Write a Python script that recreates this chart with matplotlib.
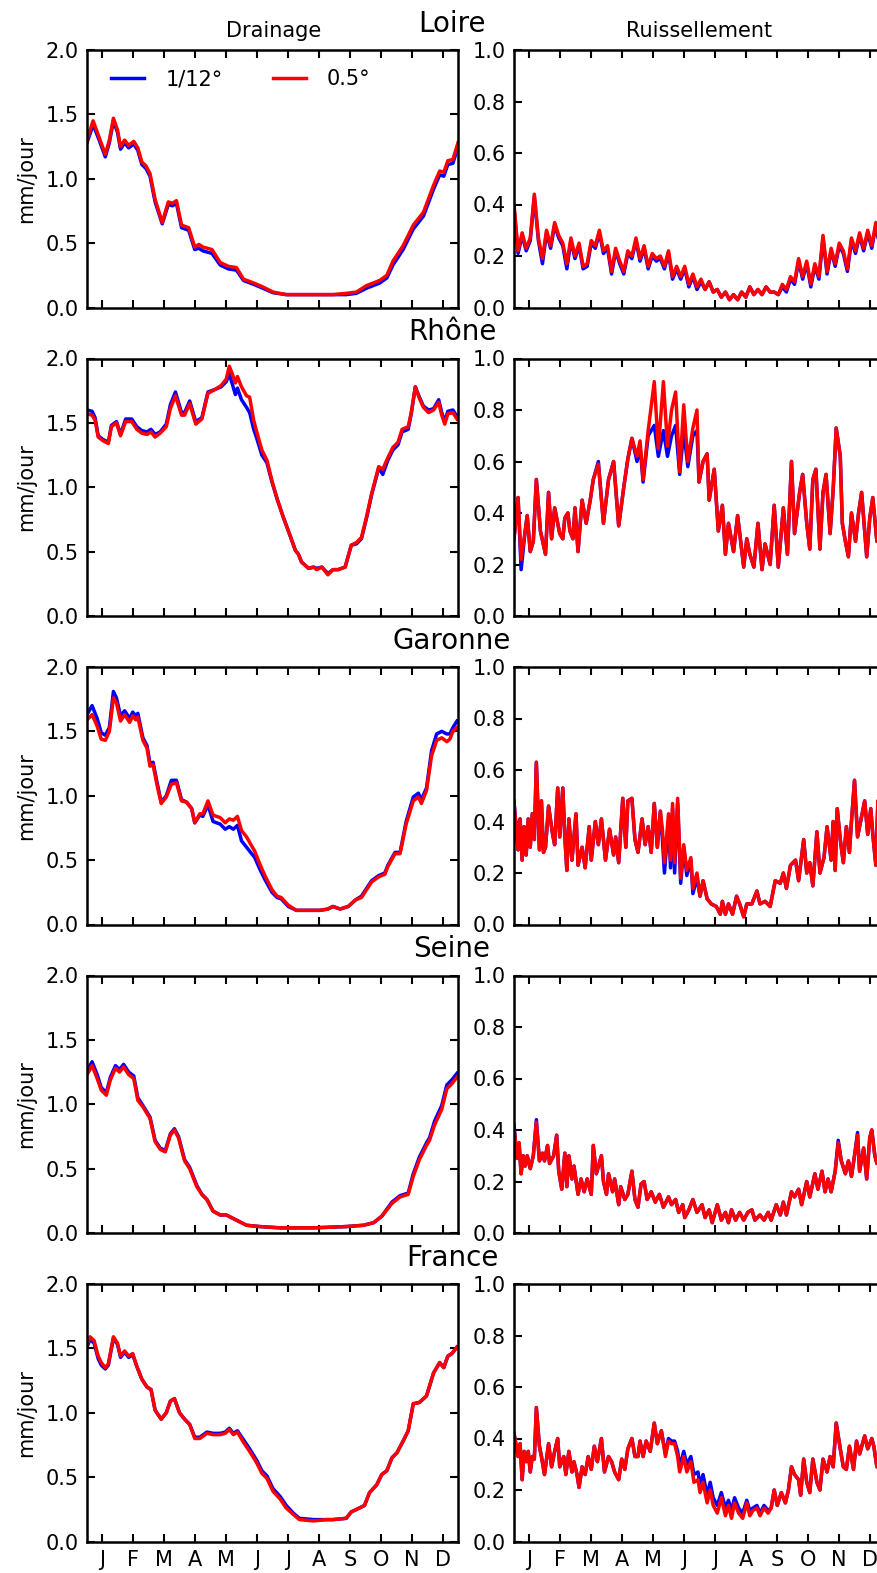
import numpy as np
import matplotlib
matplotlib.use('Agg')
import matplotlib.pyplot as plt
from matplotlib.ticker import FormatStrFormatter

mois = ['J', 'F', 'M', 'A', 'M', 'J', 'J', 'A', 'S', 'O', 'N', 'D']
bassins = ['Loire', 'Rhône', 'Garonne', 'Seine', 'France']

################ drainage (mm/jour) ################
loire_jd = [0, 6, 12, 18, 22, 26, 30, 33, 37, 41, 46, 50, 54, 58, 62, 67, 74, 80, 84, 88,
            93, 100, 106, 110, 114, 123, 131, 139, 147, 154, 164, 173, 183, 196, 209, 223,
            242, 255, 265, 275, 288, 295, 301, 311, 321, 331, 341, 347, 351, 355, 360, 365]
loire_d05 = [1.30, 1.45, 1.32, 1.19, 1.30, 1.47, 1.38, 1.25, 1.30, 1.26, 1.29, 1.24, 1.13, 1.10,
             1.04, 0.84, 0.66, 0.82, 0.81, 0.83, 0.64, 0.62, 0.47, 0.49, 0.47, 0.45, 0.35, 0.32,
             0.31, 0.22, 0.19, 0.16, 0.12, 0.10, 0.10, 0.10, 0.10, 0.11, 0.12, 0.17, 0.21, 0.25,
             0.36, 0.48, 0.64, 0.74, 0.95, 1.06, 1.05, 1.14, 1.15, 1.28]
loire_d12 = [1.28, 1.42, 1.30, 1.17, 1.28, 1.45, 1.36, 1.23, 1.28, 1.24, 1.27, 1.22, 1.11, 1.08,
             1.02, 0.82, 0.65, 0.80, 0.79, 0.81, 0.62, 0.60, 0.45, 0.46, 0.44, 0.42, 0.33, 0.30,
             0.29, 0.21, 0.18, 0.15, 0.115, 0.10, 0.10, 0.10, 0.10, 0.10, 0.11, 0.15, 0.19, 0.23,
             0.33, 0.45, 0.61, 0.71, 0.92, 1.03, 1.02, 1.11, 1.12, 1.25]

rhone_jd = [0, 5, 8, 11, 16, 21, 24, 29, 33, 38, 44, 49, 54, 59, 63, 67, 72, 78, 82, 87,
            93, 96, 101, 107, 113, 119, 126, 132, 137, 140, 143, 146, 148, 152, 157, 160, 164, 167, 172, 177,
            182, 187, 193, 200, 205, 208, 211, 218, 223, 226, 231, 237, 242, 247, 254, 260, 265, 270, 275, 280,
            287, 291, 296, 301, 306, 310, 316, 319, 323, 327, 331, 336, 341, 346, 349, 352, 355, 360, 364]
rhone_d05 = [1.57, 1.56, 1.52, 1.39, 1.36, 1.34, 1.47, 1.50, 1.40, 1.51,
             1.51, 1.45, 1.42, 1.41, 1.43, 1.39, 1.42, 1.47, 1.61, 1.71,
             1.56, 1.56, 1.65, 1.49, 1.53, 1.73, 1.76, 1.79, 1.84, 1.94,
             1.88, 1.81, 1.86, 1.78, 1.71, 1.70, 1.52, 1.43, 1.29, 1.21,
             1.05, 0.91, 0.77, 0.62, 0.51, 0.48, 0.42, 0.37, 0.38, 0.36,
             0.38, 0.32, 0.36, 0.36, 0.38, 0.55, 0.57, 0.61, 0.77, 0.95,
             1.16, 1.14, 1.23, 1.31, 1.35, 1.45, 1.47, 1.58, 1.78, 1.69,
             1.62, 1.58, 1.60, 1.66, 1.56, 1.49, 1.57, 1.58, 1.53]
rhone_d12 = [1.60, 1.59, 1.54, 1.40, 1.37, 1.35, 1.48, 1.51, 1.41, 1.53,
             1.53, 1.47, 1.44, 1.43, 1.45, 1.41, 1.43, 1.49, 1.64, 1.74,
             1.58, 1.58, 1.67, 1.51, 1.54, 1.74, 1.76, 1.78, 1.82, 1.88,
             1.80, 1.72, 1.77, 1.68, 1.62, 1.58, 1.45, 1.38, 1.25, 1.19,
             1.04, 0.91, 0.77, 0.62, 0.51, 0.48, 0.42, 0.37, 0.38, 0.37,
             0.38, 0.33, 0.36, 0.36, 0.38, 0.55, 0.56, 0.60, 0.76, 0.94,
             1.15, 1.10, 1.21, 1.29, 1.33, 1.43, 1.45, 1.57, 1.78, 1.70,
             1.63, 1.60, 1.61, 1.68, 1.58, 1.51, 1.59, 1.60, 1.55]

garonne_jd = [0, 5, 10, 14, 18, 22, 26, 29, 33, 37, 42, 45, 48, 50, 55, 59, 62, 65, 69, 73,
              78, 83, 88, 93, 98, 103, 106, 111, 114, 119, 124, 131, 136, 140, 144, 148, 152, 157, 162, 165,
              170, 175, 182, 187, 191, 198, 206, 216, 229, 237, 242, 249, 257, 264, 270, 280, 287, 293, 296, 303,
              308, 314, 321, 326, 329, 334, 339, 344, 349, 354, 357, 360, 364]
garonne_d05 = [1.59, 1.63, 1.54, 1.44, 1.43, 1.50, 1.76, 1.72, 1.58, 1.63,
               1.57, 1.62, 1.59, 1.61, 1.43, 1.37, 1.23, 1.24, 1.08, 0.94,
               0.99, 1.09, 1.10, 0.96, 0.95, 0.90, 0.79, 0.86, 0.86, 0.96,
               0.85, 0.83, 0.79, 0.82, 0.81, 0.84, 0.73, 0.68, 0.61, 0.57,
               0.47, 0.38, 0.27, 0.22, 0.21, 0.15, 0.11, 0.11, 0.11, 0.12,
               0.14, 0.12, 0.14, 0.19, 0.21, 0.33, 0.37, 0.39, 0.45, 0.55,
               0.55, 0.78, 0.96, 0.99, 0.94, 1.04, 1.31, 1.43, 1.45, 1.42,
               1.44, 1.50, 1.53]
garonne_d12 = [1.63, 1.70, 1.60, 1.49, 1.47, 1.53, 1.81, 1.76, 1.62, 1.66,
               1.60, 1.65, 1.62, 1.64, 1.45, 1.39, 1.25, 1.26, 1.10, 0.95,
               1.00, 1.12, 1.12, 0.97, 0.95, 0.90, 0.79, 0.85, 0.84, 0.93,
               0.80, 0.78, 0.74, 0.76, 0.74, 0.77, 0.65, 0.60, 0.55, 0.52,
               0.43, 0.35, 0.25, 0.21, 0.20, 0.14, 0.11, 0.11, 0.11, 0.12,
               0.14, 0.12, 0.14, 0.19, 0.22, 0.34, 0.38, 0.40, 0.46, 0.56,
               0.56, 0.80, 0.99, 1.02, 0.97, 1.06, 1.35, 1.48, 1.50, 1.48,
               1.48, 1.53, 1.58]

seine_jd = [0, 5, 10, 14, 19, 23, 28, 32, 36, 41, 46, 50, 55, 62, 67, 72, 77, 82, 86, 90,
            96, 101, 108, 113, 118, 124, 131, 137, 147, 157, 170, 190, 223, 255, 272, 282, 290, 300, 308, 316,
            321, 327, 334, 337, 342, 349, 354, 359, 364]
seine_d05 = [1.23, 1.30, 1.20, 1.11, 1.07, 1.19, 1.28, 1.25, 1.29, 1.23,
             1.20, 1.03, 0.98, 0.89, 0.71, 0.65, 0.63, 0.76, 0.80, 0.74,
             0.56, 0.50, 0.36, 0.30, 0.26, 0.17, 0.14, 0.14, 0.10, 0.06,
             0.05, 0.04, 0.04, 0.05, 0.06, 0.08, 0.13, 0.23, 0.28, 0.30,
             0.44, 0.57, 0.68, 0.72, 0.84, 0.96, 1.12, 1.16, 1.21]
seine_d12 = [1.26, 1.33, 1.23, 1.13, 1.09, 1.21, 1.30, 1.27, 1.31, 1.25,
             1.22, 1.05, 0.99, 0.90, 0.72, 0.66, 0.64, 0.77, 0.81, 0.75,
             0.57, 0.51, 0.37, 0.30, 0.26, 0.17, 0.14, 0.14, 0.10, 0.06,
             0.05, 0.04, 0.04, 0.05, 0.06, 0.08, 0.13, 0.24, 0.29, 0.31,
             0.46, 0.59, 0.70, 0.74, 0.87, 0.99, 1.15, 1.19, 1.24]

france_jd = [0, 3, 7, 11, 14, 18, 21, 26, 30, 33, 37, 41, 45, 49, 54, 59, 63, 67, 73, 78,
             82, 86, 91, 96, 101, 106, 111, 118, 124, 131, 136, 140, 144, 148, 154, 160, 167, 172, 177, 183,
             190, 196, 203, 209, 223, 236, 242, 255, 260, 268, 273, 278, 285, 290, 295, 300, 305, 311, 316, 321,
             327, 334, 341, 347, 351, 355, 359, 364]
france_d05 = [1.53, 1.59, 1.56, 1.44, 1.39, 1.35, 1.38, 1.59, 1.54, 1.44,
              1.48, 1.44, 1.46, 1.36, 1.26, 1.20, 1.18, 1.02, 0.95, 1.00,
              1.09, 1.11, 1.00, 0.95, 0.91, 0.80, 0.80, 0.84, 0.83, 0.83,
              0.84, 0.87, 0.83, 0.85, 0.77, 0.70, 0.61, 0.53, 0.49, 0.39,
              0.33, 0.26, 0.21, 0.17, 0.16, 0.17, 0.17, 0.18, 0.23, 0.26,
              0.28, 0.38, 0.44, 0.52, 0.55, 0.65, 0.69, 0.78, 0.86, 1.07,
              1.08, 1.13, 1.31, 1.39, 1.35, 1.44, 1.46, 1.51]
france_d12 = [1.51, 1.57, 1.54, 1.42, 1.37, 1.34, 1.37, 1.58, 1.53, 1.43,
              1.47, 1.43, 1.45, 1.36, 1.26, 1.20, 1.18, 1.02, 0.95, 1.00,
              1.09, 1.11, 1.00, 0.95, 0.91, 0.81, 0.81, 0.85, 0.84, 0.84,
              0.85, 0.88, 0.84, 0.86, 0.79, 0.72, 0.63, 0.55, 0.51, 0.41,
              0.35, 0.28, 0.22, 0.18, 0.17, 0.17, 0.17, 0.18, 0.23, 0.26,
              0.28, 0.38, 0.44, 0.52, 0.55, 0.65, 0.69, 0.78, 0.86, 1.07,
              1.08, 1.13, 1.31, 1.39, 1.35, 1.44, 1.46, 1.51]

################ ruissellement (mm/jour) ################
loire_jr = list(range(0, 365, 4))
loire_r05 = [0.40, 0.22, 0.29, 0.23, 0.27, 0.44, 0.27, 0.19, 0.30, 0.24,
             0.33, 0.28, 0.25, 0.17, 0.27, 0.20, 0.25, 0.16, 0.17, 0.26,
             0.24, 0.30, 0.22, 0.24, 0.14, 0.23, 0.18, 0.14, 0.22, 0.20,
             0.27, 0.19, 0.24, 0.16, 0.21, 0.19, 0.20, 0.16, 0.22, 0.12,
             0.16, 0.12, 0.16, 0.09, 0.13, 0.08, 0.11, 0.07, 0.10, 0.06,
             0.07, 0.04, 0.06, 0.03, 0.05, 0.03, 0.06, 0.04, 0.08, 0.05,
             0.07, 0.05, 0.08, 0.06, 0.06, 0.05, 0.09, 0.07, 0.12, 0.10,
             0.19, 0.12, 0.18, 0.09, 0.17, 0.12, 0.28, 0.14, 0.23, 0.17,
             0.25, 0.22, 0.15, 0.27, 0.22, 0.29, 0.23, 0.30, 0.24, 0.33,
             0.24, 0.30]
loire_r12 = [0.39, 0.21, 0.28, 0.22, 0.26, 0.43, 0.26, 0.17, 0.29, 0.23,
             0.32, 0.27, 0.24, 0.15, 0.26, 0.19, 0.24, 0.15, 0.16, 0.25,
             0.23, 0.29, 0.21, 0.23, 0.13, 0.22, 0.17, 0.13, 0.21, 0.19,
             0.26, 0.18, 0.23, 0.15, 0.20, 0.18, 0.19, 0.15, 0.21, 0.11,
             0.15, 0.11, 0.15, 0.08, 0.12, 0.07, 0.10, 0.07, 0.10, 0.06,
             0.07, 0.04, 0.06, 0.03, 0.05, 0.03, 0.06, 0.04, 0.08, 0.05,
             0.07, 0.05, 0.08, 0.06, 0.06, 0.05, 0.08, 0.06, 0.11, 0.09,
             0.18, 0.11, 0.17, 0.08, 0.16, 0.11, 0.27, 0.13, 0.22, 0.16,
             0.24, 0.21, 0.14, 0.26, 0.21, 0.28, 0.22, 0.29, 0.23, 0.32,
             0.23, 0.29]

rhone_jr = [0, 4, 7, 11, 13, 16, 19, 22, 26, 31, 34, 37, 40, 45, 48, 50, 53, 55, 58, 60,
            63, 67, 71, 75, 78, 83, 88, 93, 98, 103, 108, 112, 116, 121, 124, 127, 132, 138, 142, 147,
            151, 155, 159, 163, 167, 171, 176, 180, 182, 186, 190, 192, 197, 201, 205, 208, 211, 216, 220, 226,
            229, 232, 236, 240, 244, 247, 252, 256, 260, 265, 269, 273, 276, 281, 284, 288, 291, 294, 297, 301,
            304, 307, 311, 314, 317, 321, 323, 326, 329, 332, 336, 339, 342, 347, 350, 353, 357, 361, 364]
rhone_r05 = [0.30, 0.46, 0.22, 0.33, 0.39, 0.25, 0.29, 0.53, 0.33, 0.24,
             0.48, 0.30, 0.42, 0.32, 0.30, 0.38, 0.40, 0.33, 0.30, 0.42,
             0.25, 0.45, 0.36, 0.45, 0.53, 0.59, 0.36, 0.53, 0.60, 0.35,
             0.50, 0.61, 0.69, 0.62, 0.68, 0.53, 0.72, 0.91, 0.65, 0.91,
             0.66, 0.80, 0.87, 0.56, 0.82, 0.60, 0.73, 0.80, 0.52, 0.60,
             0.63, 0.45, 0.57, 0.33, 0.43, 0.24, 0.36, 0.25, 0.39, 0.19,
             0.30, 0.24, 0.19, 0.36, 0.18, 0.28, 0.20, 0.43, 0.19, 0.42,
             0.24, 0.60, 0.32, 0.48, 0.55, 0.36, 0.26, 0.53, 0.57, 0.26,
             0.48, 0.55, 0.32, 0.49, 0.73, 0.62, 0.36, 0.29, 0.23, 0.40,
             0.29, 0.40, 0.48, 0.23, 0.38, 0.46, 0.29, 0.42, 0.33]
rhone_r12 = [0.30, 0.46, 0.18, 0.33, 0.39, 0.25, 0.29, 0.53, 0.33, 0.24,
             0.48, 0.30, 0.42, 0.32, 0.30, 0.38, 0.40, 0.33, 0.30, 0.42,
             0.25, 0.45, 0.36, 0.45, 0.53, 0.60, 0.36, 0.53, 0.60, 0.35,
             0.50, 0.61, 0.69, 0.60, 0.66, 0.52, 0.70, 0.74, 0.62, 0.72,
             0.62, 0.70, 0.74, 0.55, 0.72, 0.58, 0.70, 0.72, 0.52, 0.60,
             0.63, 0.45, 0.57, 0.33, 0.43, 0.24, 0.36, 0.25, 0.39, 0.19,
             0.30, 0.24, 0.19, 0.36, 0.18, 0.28, 0.20, 0.43, 0.19, 0.42,
             0.24, 0.60, 0.32, 0.48, 0.55, 0.36, 0.26, 0.53, 0.57, 0.26,
             0.48, 0.55, 0.32, 0.49, 0.73, 0.62, 0.36, 0.29, 0.23, 0.40,
             0.29, 0.40, 0.48, 0.23, 0.38, 0.46, 0.29, 0.42, 0.33]

garonne_jr = [0, 4, 6, 8, 10, 12, 14, 16, 18, 20, 22, 25, 27, 29, 31, 34, 38, 40, 43, 45,
              48, 50, 52, 54, 57, 61, 63, 67, 70, 74, 76, 80, 83, 86, 90, 94, 98, 100, 103, 107,
              110, 112, 116, 119, 122, 126, 129, 132, 135, 138, 141, 144, 146, 148, 152, 154, 156, 158, 161, 164,
              167, 170, 174, 176, 180, 183, 186, 190, 194, 199, 203, 205, 208, 211, 215, 219, 222, 226, 229, 234,
              239, 242, 247, 252, 257, 262, 265, 268, 272, 277, 280, 285, 288, 291, 294, 298, 301, 305, 308, 312,
              314, 316, 318, 321, 324, 327, 330, 332, 335, 338, 341, 345, 348, 351, 353, 356, 358, 361, 364]
garonne_r05 = [0.47, 0.29, 0.41, 0.25, 0.38, 0.27, 0.41, 0.30, 0.43, 0.33,
               0.63, 0.29, 0.48, 0.28, 0.30, 0.46, 0.35, 0.31, 0.53, 0.34,
               0.53, 0.34, 0.21, 0.41, 0.25, 0.43, 0.23, 0.30, 0.22, 0.38,
               0.25, 0.40, 0.31, 0.41, 0.25, 0.37, 0.27, 0.34, 0.24, 0.49,
               0.30, 0.48, 0.49, 0.33, 0.28, 0.41, 0.31, 0.38, 0.28, 0.47,
               0.30, 0.44, 0.37, 0.24, 0.43, 0.25, 0.47, 0.24, 0.49, 0.18,
               0.31, 0.21, 0.26, 0.14, 0.20, 0.11, 0.17, 0.10, 0.08, 0.07,
               0.04, 0.09, 0.04, 0.08, 0.04, 0.11, 0.08, 0.03, 0.08, 0.08,
               0.13, 0.08, 0.09, 0.07, 0.17, 0.16, 0.20, 0.14, 0.23, 0.25,
               0.17, 0.33, 0.20, 0.24, 0.15, 0.36, 0.20, 0.26, 0.38, 0.25,
               0.40, 0.21, 0.45, 0.33, 0.24, 0.38, 0.28, 0.40, 0.56, 0.34,
               0.40, 0.48, 0.35, 0.45, 0.35, 0.23, 0.48, 0.40, 0.35]
garonne_r12 = [0.48, 0.29, 0.41, 0.25, 0.38, 0.27, 0.41, 0.30, 0.43, 0.33,
               0.63, 0.29, 0.48, 0.28, 0.30, 0.46, 0.35, 0.31, 0.53, 0.34,
               0.53, 0.34, 0.21, 0.41, 0.25, 0.43, 0.23, 0.30, 0.22, 0.38,
               0.25, 0.40, 0.31, 0.41, 0.25, 0.37, 0.27, 0.34, 0.24, 0.49,
               0.30, 0.48, 0.49, 0.33, 0.28, 0.41, 0.31, 0.38, 0.28, 0.47,
               0.30, 0.44, 0.33, 0.20, 0.40, 0.22, 0.45, 0.20, 0.47, 0.16,
               0.30, 0.19, 0.25, 0.12, 0.18, 0.11, 0.17, 0.10, 0.08, 0.07,
               0.04, 0.09, 0.04, 0.08, 0.04, 0.11, 0.08, 0.03, 0.08, 0.08,
               0.13, 0.08, 0.09, 0.07, 0.17, 0.16, 0.20, 0.14, 0.23, 0.25,
               0.17, 0.33, 0.20, 0.24, 0.15, 0.36, 0.20, 0.26, 0.38, 0.25,
               0.40, 0.21, 0.45, 0.33, 0.24, 0.38, 0.28, 0.40, 0.56, 0.34,
               0.40, 0.48, 0.35, 0.45, 0.35, 0.23, 0.48, 0.40, 0.35]

seine_jr = [0, 3, 5, 7, 9, 11, 13, 16, 19, 22, 25, 28, 30, 33, 35, 39, 42, 44, 47, 50,
            52, 54, 57, 59, 63, 66, 69, 72, 76, 78, 81, 86, 88, 91, 93, 97, 99, 103, 105, 109,
            112, 116, 119, 122, 125, 128, 131, 135, 139, 143, 147, 152, 155, 159, 162, 166, 168, 172, 176, 180,
            185, 188, 192, 195, 200, 204, 208, 211, 214, 218, 222, 226, 230, 234, 237, 242, 246, 250, 253, 258,
            262, 265, 268, 273, 276, 280, 283, 288, 291, 296, 299, 303, 306, 309, 312, 316, 319, 322, 326, 329,
            332, 335, 338, 340, 344, 347, 350, 352, 355, 357, 361, 364]
seine_r05 = [0.41, 0.29, 0.35, 0.23, 0.30, 0.26, 0.30, 0.25, 0.30, 0.43,
             0.28, 0.31, 0.28, 0.34, 0.27, 0.30, 0.38, 0.24, 0.17, 0.31,
             0.18, 0.30, 0.21, 0.26, 0.15, 0.21, 0.16, 0.21, 0.15, 0.34,
             0.23, 0.30, 0.20, 0.15, 0.23, 0.16, 0.21, 0.11, 0.18, 0.13,
             0.15, 0.24, 0.13, 0.10, 0.19, 0.20, 0.13, 0.16, 0.12, 0.15,
             0.10, 0.14, 0.11, 0.13, 0.08, 0.11, 0.06, 0.09, 0.13, 0.08,
             0.11, 0.06, 0.09, 0.04, 0.11, 0.05, 0.08, 0.04, 0.09, 0.05,
             0.08, 0.05, 0.08, 0.09, 0.05, 0.07, 0.05, 0.08, 0.05, 0.11,
             0.07, 0.12, 0.07, 0.16, 0.14, 0.17, 0.11, 0.20, 0.14, 0.23,
             0.17, 0.24, 0.16, 0.21, 0.16, 0.24, 0.35, 0.28, 0.23, 0.28,
             0.22, 0.30, 0.38, 0.24, 0.33, 0.21, 0.37, 0.40, 0.30, 0.27,
             0.33, 0.28]
seine_r12 = [0.42, 0.29, 0.35, 0.23, 0.30, 0.26, 0.30, 0.25, 0.30, 0.44,
             0.28, 0.31, 0.28, 0.34, 0.27, 0.30, 0.38, 0.24, 0.17, 0.31,
             0.18, 0.30, 0.21, 0.26, 0.15, 0.21, 0.16, 0.21, 0.15, 0.34,
             0.23, 0.30, 0.20, 0.15, 0.23, 0.16, 0.21, 0.11, 0.18, 0.13,
             0.15, 0.24, 0.13, 0.10, 0.19, 0.20, 0.13, 0.16, 0.12, 0.15,
             0.10, 0.14, 0.11, 0.13, 0.08, 0.11, 0.06, 0.09, 0.13, 0.08,
             0.11, 0.06, 0.09, 0.04, 0.11, 0.05, 0.08, 0.04, 0.09, 0.05,
             0.08, 0.05, 0.08, 0.09, 0.05, 0.07, 0.05, 0.08, 0.05, 0.11,
             0.07, 0.12, 0.07, 0.16, 0.14, 0.17, 0.11, 0.20, 0.14, 0.23,
             0.17, 0.24, 0.16, 0.21, 0.16, 0.24, 0.36, 0.28, 0.23, 0.28,
             0.22, 0.30, 0.39, 0.24, 0.33, 0.21, 0.37, 0.40, 0.30, 0.27,
             0.33, 0.28]

france_jr = [0, 4, 6, 8, 10, 12, 14, 16, 18, 20, 22, 25, 27, 30, 34, 37, 40, 43, 45, 49,
             51, 54, 57, 59, 62, 64, 67, 70, 73, 76, 79, 82, 86, 89, 93, 96, 99, 103, 106, 109,
             112, 116, 119, 122, 124, 127, 130, 134, 138, 141, 145, 149, 152, 155, 158, 161, 163, 167, 170, 174,
             177, 181, 183, 186, 190, 193, 196, 200, 204, 208, 211, 214, 217, 221, 225, 229, 232, 235, 239, 242,
             246, 250, 253, 256, 259, 263, 267, 270, 273, 276, 280, 282, 285, 288, 291, 294, 298, 301, 304, 308,
             311, 314, 317, 321, 324, 327, 330, 334, 337, 340, 345, 348, 352, 354, 357, 361, 364]
france_r05 = [0.42, 0.33, 0.38, 0.24, 0.35, 0.31, 0.35, 0.27, 0.33, 0.32,
              0.52, 0.37, 0.33, 0.26, 0.38, 0.29, 0.35, 0.40, 0.29, 0.33,
              0.26, 0.35, 0.27, 0.31, 0.26, 0.21, 0.29, 0.26, 0.33, 0.28,
              0.37, 0.31, 0.40, 0.27, 0.33, 0.31, 0.27, 0.24, 0.32, 0.28,
              0.36, 0.40, 0.33, 0.33, 0.39, 0.33, 0.39, 0.35, 0.46, 0.38,
              0.43, 0.33, 0.39, 0.38, 0.38, 0.33, 0.27, 0.33, 0.27, 0.31,
              0.23, 0.24, 0.19, 0.23, 0.15, 0.20, 0.14, 0.11, 0.17, 0.10,
              0.14, 0.09, 0.15, 0.11, 0.09, 0.15, 0.10, 0.12, 0.13, 0.10,
              0.13, 0.11, 0.13, 0.20, 0.14, 0.19, 0.15, 0.20, 0.29, 0.26,
              0.24, 0.18, 0.32, 0.23, 0.19, 0.32, 0.23, 0.20, 0.32, 0.27,
              0.33, 0.29, 0.46, 0.36, 0.29, 0.28, 0.37, 0.28, 0.39, 0.34,
              0.41, 0.36, 0.40, 0.37, 0.29, 0.37, 0.33]
france_r12 = [0.42, 0.33, 0.38, 0.24, 0.35, 0.31, 0.35, 0.27, 0.33, 0.32,
              0.52, 0.37, 0.33, 0.26, 0.38, 0.29, 0.35, 0.40, 0.29, 0.33,
              0.26, 0.35, 0.27, 0.31, 0.26, 0.21, 0.29, 0.26, 0.33, 0.28,
              0.37, 0.31, 0.40, 0.27, 0.33, 0.31, 0.27, 0.24, 0.32, 0.28,
              0.36, 0.40, 0.33, 0.33, 0.39, 0.33, 0.39, 0.35, 0.46, 0.38,
              0.43, 0.34, 0.40, 0.39, 0.39, 0.35, 0.29, 0.35, 0.30, 0.33,
              0.26, 0.27, 0.22, 0.26, 0.18, 0.23, 0.17, 0.14, 0.19, 0.13,
              0.16, 0.12, 0.17, 0.13, 0.11, 0.16, 0.12, 0.13, 0.14, 0.11,
              0.14, 0.12, 0.13, 0.20, 0.14, 0.19, 0.15, 0.20, 0.29, 0.26,
              0.24, 0.18, 0.32, 0.23, 0.19, 0.32, 0.23, 0.20, 0.32, 0.27,
              0.33, 0.29, 0.46, 0.36, 0.29, 0.28, 0.37, 0.28, 0.39, 0.34,
              0.41, 0.36, 0.40, 0.37, 0.29, 0.37, 0.33]

drainage = [(loire_jd, loire_d12, loire_d05), (rhone_jd, rhone_d12, rhone_d05),
            (garonne_jd, garonne_d12, garonne_d05), (seine_jd, seine_d12, seine_d05),
            (france_jd, france_d12, france_d05)]
ruissellement = [(loire_jr, loire_r12, loire_r05), (rhone_jr, rhone_r12, rhone_r05),
                 (garonne_jr, garonne_r12, garonne_r05), (seine_jr, seine_r12, seine_r05),
                 (france_jr, france_r12, france_r05)]


def panneau(ax, serie, ymax, pas, bas):
    jours, v12, v05 = serie
    ax.plot(jours, v12, color='blue', lw=2.5, label='1/12°')
    ax.plot(jours, v05, color='red', lw=2.5, label='0.5°')
    ax.set_xlim(0, 365)
    ax.set_ylim(0, ymax)
    ax.set_yticks(np.arange(0, ymax + pas / 2, pas))
    ax.yaxis.set_major_formatter(FormatStrFormatter('%.1f'))
    ax.set_xticks((np.arange(12) + 0.5) * 365 / 12)
    if bas:
        ax.set_xticklabels(mois)
    else:
        ax.set_xticklabels([])
    ax.tick_params(direction='in', top=True, right=True, length=6, width=1.5,
                   labelsize=15, pad=6)
    for s in ax.spines.values():
        s.set_linewidth(1.8)


W, H = 877, 1573
fig = plt.figure(figsize=(W / 100, H / 100), dpi=100)

for i in range(5):
    top = 50 + 308.5 * i
    h = 257.5
    y0 = 1 - (top + h) / H
    axg = fig.add_axes([87 / W, y0, 371 / W, h / H])
    axd = fig.add_axes([514 / W, y0, 371 / W, h / H])
    panneau(axg, drainage[i], 2.0, 0.5, i == 4)
    panneau(axd, ruissellement[i], 1.0, 0.2, i == 4)
    axg.set_ylabel('mm/jour', fontsize=15, labelpad=7)
    fig.text(452 / W, 1 - (top - 18) / H, bassins[i], fontsize=20, ha='center', va='baseline')
    if i == 0:
        axg.legend(loc='upper left', bbox_to_anchor=(0.065, 0.925), ncol=2, frameon=False,
                   fontsize=15, handlelength=1.6, handletextpad=1.0, columnspacing=2.4,
                   borderpad=0, borderaxespad=0)

fig.text(274 / W, 1 - 37 / H, 'Drainage', fontsize=15, ha='center', va='baseline')
fig.text(699.5 / W, 1 - 37 / H, 'Ruissellement', fontsize=15, ha='center', va='baseline')

fig.savefig('out.png', dpi=100)
